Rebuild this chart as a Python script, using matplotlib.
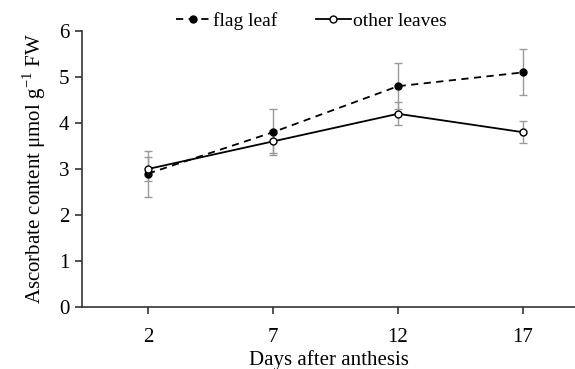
import numpy as np
import matplotlib.pyplot as plt

plt.rcParams['font.family'] = ['Liberation Serif', 'DejaVu Serif']
plt.rcParams['mathtext.fontset'] = 'custom'
plt.rcParams['mathtext.rm'] = 'Liberation Serif'

days = [2, 7, 12, 17]
flag_leaf = [2.9, 3.8, 4.8, 5.1]
flag_err = [0.5, 0.5, 0.5, 0.5]
other_leaves = [3.0, 3.6, 4.2, 3.8]
other_err = [0.27, 0.25, 0.25, 0.24]

fig = plt.figure(figsize=(5.75, 3.69), dpi=100)
ax = fig.add_axes([82 / 575, 1 - 307 / 369, (575 - 82) / 575, 276 / 369])

ax.errorbar(days, flag_leaf, yerr=flag_err, fmt='none', ecolor='#9a9a9a',
            elinewidth=1, capsize=3, capthick=1, zorder=1)
ax.errorbar(days, other_leaves, yerr=other_err, fmt='none', ecolor='#9a9a9a',
            elinewidth=1, capsize=3, capthick=1, zorder=1)
ax.plot(days, flag_leaf, color='black', ls=(0, (4, 3)), lw=1.3, marker='o',
        ms=5, mfc='black', mec='black', label='flag leaf', zorder=3)
ax.plot(days, other_leaves, color='black', ls='-', lw=1.3, marker='o',
        ms=5, mfc='white', mec='black', label='other leaves', zorder=3)

ax.set_xlim(-0.64, 19.08)
ax.set_ylim(0, 6)
ax.set_xticks(days)
ax.set_yticks(range(7))
ax.spines['top'].set_visible(False)
ax.spines['right'].set_visible(False)
for s in ['left', 'bottom']:
    ax.spines[s].set_color('#333333')
    ax.spines[s].set_linewidth(1.2)
ax.tick_params(direction='out', length=5, width=1.2, color='#333333',
               labelsize=15, pad=4)
ax.tick_params(axis='x', pad=10)

ax.set_xlabel('Days after anthesis', fontsize=15, labelpad=2)
ax.set_ylabel('Ascorbate content μmol g$^{\\mathregular{-1}}$ FW', fontsize=15, labelpad=8)

ax.legend(loc='lower center', bbox_to_anchor=(0.465, 0.975), ncol=2, frameon=False,
          fontsize=14, handlelength=1.8, handletextpad=0.1, columnspacing=2.0,
          borderaxespad=0)

fig.savefig('out.png', dpi=100)
